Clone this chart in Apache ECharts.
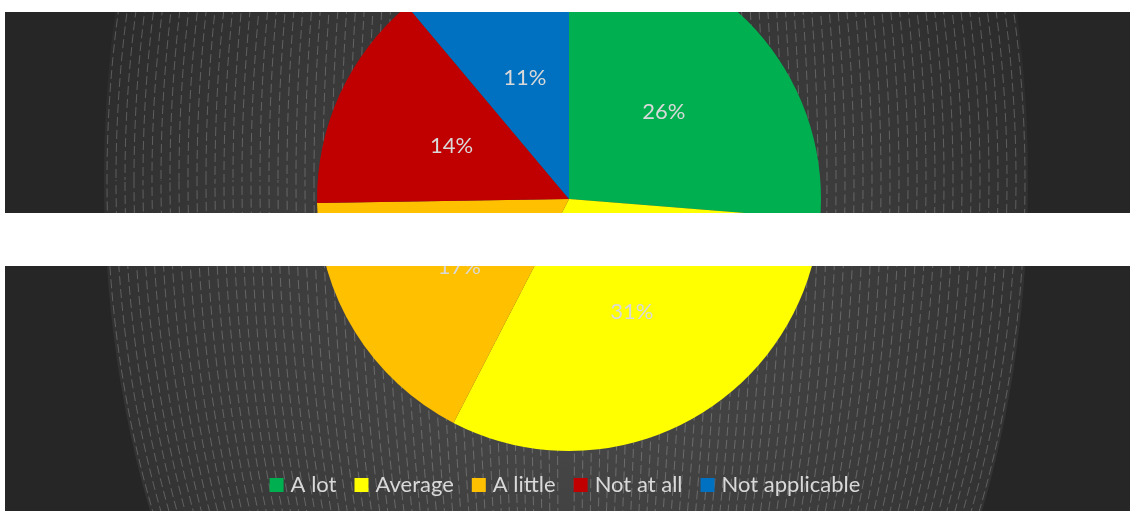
<!DOCTYPE html>
<html>
<head>
<meta charset="utf-8">
<title>Pie</title>
<script src="https://cdn.jsdelivr.net/npm/echarts@6/dist/echarts.min.js"></script>
<style>
  html, body { margin: 0; padding: 0; background: #ffffff; }
  #chart { width: 1130px; height: 511px; }
</style>
</head>
<body>
<div id="chart"></div>
<script>
// Answer categories and their shares (percent)
const categories = ['A lot', 'Average', 'A little', 'Not at all', 'Not applicable'];
const shares = [26, 31, 17, 14, 11];

// Slice palette, in category order
const sliceColors = ['#00B050', '#FFFF00', '#FFC000', '#C00000', '#0070C0'];

const W = 1130, H = 511;
const plotLeft = 5, plotTop = 12;

// Decorative backdrop: lit oval with dashed meridian lines
const cx = 566, cy = 180, rxMax = 462, ry = 760;
const backdrop = [
  {
    type: 'rect',
    shape: { x: plotLeft, y: plotTop, width: W - plotLeft, height: H - plotTop },
    style: { fill: '#262626' },
    z: 0, silent: true
  },
  {
    type: 'ellipse',
    shape: { cx: cx, cy: cy, rx: rxMax, ry: ry },
    style: {
      fill: {
        type: 'radial', x: cx, y: 340, r: 560, global: true,
        colorStops: [
          { offset: 0, color: '#4b4b4b' },
          { offset: 0.6, color: '#3a3a3a' },
          { offset: 1, color: '#2b2b2b' }
        ]
      }
    },
    z: 0, silent: true
  }
];
let ring = 0;
for (let rx = 9; rx <= rxMax; rx += 9) {
  backdrop.push({
    type: 'ellipse',
    shape: { cx: cx, cy: cy, rx: rx, ry: ry },
    style: {
      fill: null,
      stroke: 'rgba(255,255,255,0.22)',
      lineWidth: 1,
      lineDash: [9, 4],
      lineDashOffset: (ring * 5) % 13
    },
    z: 0, silent: true
  });
  ring++;
}

// White frame strips and the blank band across the middle
const overlays = [
  { type: 'rect', shape: { x: 0, y: 0, width: W, height: plotTop }, style: { fill: '#ffffff' }, z: 100, silent: true },
  { type: 'rect', shape: { x: 0, y: 0, width: plotLeft, height: H }, style: { fill: '#ffffff' }, z: 100, silent: true },
  { type: 'rect', shape: { x: 0, y: 213, width: W, height: 53 }, style: { fill: '#ffffff' }, z: 100, silent: true }
];

const chart = echarts.init(document.getElementById('chart'), null, { renderer: 'canvas' });

chart.setOption({
  animation: false,
  backgroundColor: '#ffffff',
  color: sliceColors,
  textStyle: { fontFamily: 'Lato' },
  graphic: { elements: backdrop.concat(overlays) },
  legend: {
    data: categories,
    left: 'center',
    top: 469,
    icon: 'rect',
    itemWidth: 14,
    itemHeight: 14,
    itemGap: 18,
    textStyle: { color: '#d9d9d9', fontSize: 22, fontFamily: 'Lato', padding: [0, 0, 0, 2] }
  },
  series: [{
    type: 'pie',
    center: [569, 199],
    radius: 252,
    startAngle: 90,
    clockwise: true,
    avoidLabelOverlap: false,
    z: 2,
    itemStyle: { borderWidth: 0 },
    emphasis: { scale: false },
    label: {
      show: true,
      position: 'inside',
      formatter: '{c}%',
      color: '#d9d9d9',
      fontSize: 22,
      fontFamily: 'Lato'
    },
    labelLine: { show: false },
    data: categories.map((name, i) => ({ name: name, value: shares[i] }))
  }]
});
</script>
</body>
</html>
